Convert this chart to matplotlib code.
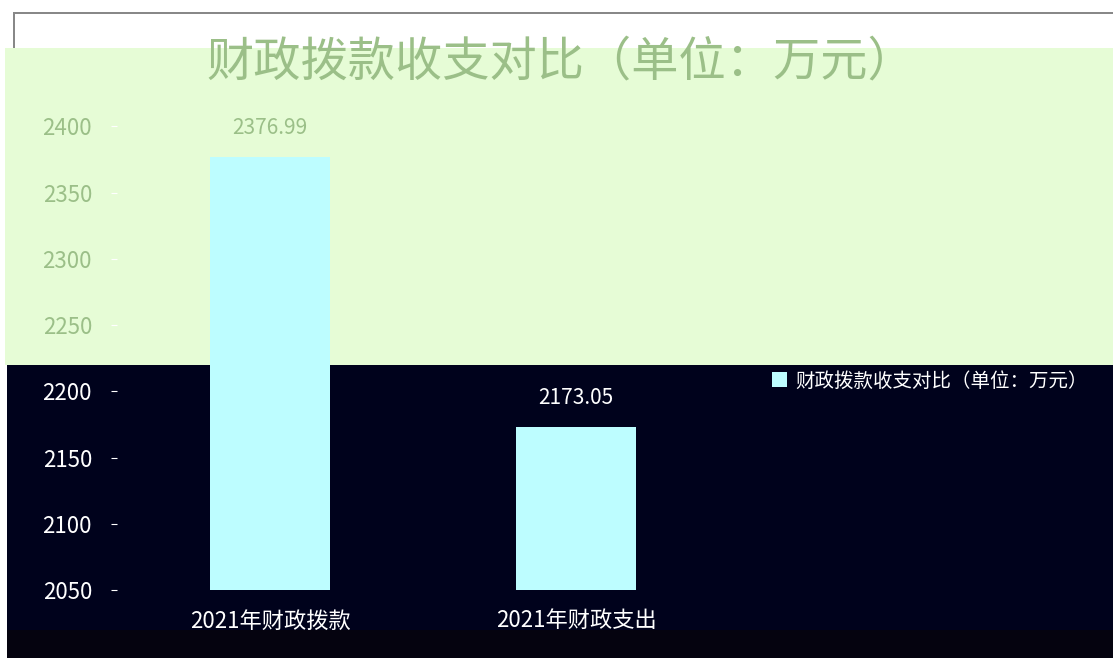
import matplotlib
matplotlib.use("Agg")
import matplotlib.pyplot as plt
from matplotlib.patches import Rectangle

plt.rcParams['font.family'] = ['Noto Sans CJK SC', 'DejaVu Sans']

categories = ["2021年财政拨款", "2021年财政支出"]
values = [2376.99, 2173.05]
yticks = [2050, 2100, 2150, 2200, 2250, 2300, 2350, 2400]
title = "财政拨款收支对比（单位：万元）"
series_name = "财政拨款收支对比（单位：万元）"

W, H = 1113, 658
fig = plt.figure(figsize=(W / 100, H / 100), dpi=100)
fig.patch.set_facecolor("white")

def frect(x0, y0, x1, y1, color):
    fig.patches.append(Rectangle((x0 / W, 1 - y1 / H), (x1 - x0) / W, (y1 - y0) / H,
                                 transform=fig.transFigure, facecolor=color,
                                 edgecolor="none", zorder=-10))

# background regions
frect(13, 12, W, 14, "#888888")
frect(13, 12, 15, 48, "#888888")
frect(5, 48, W, 365, "#e6fcd6")
frect(7, 365, W, 630, "#00021c")
frect(7, 630, W, 658, "#05030f")

green = "#9bbf88"
ax = fig.add_axes([117 / W, 1 - 590 / H, (729 - 117) / W, (590 - 100) / H])
ax.set_zorder(5)
ax.patch.set_alpha(0)
for s in ax.spines.values():
    s.set_visible(False)

bars = ax.bar(range(len(categories)), values, width=0.39, color="#bdfdff",
              label=series_name, zorder=2)
ax.set_xlim(-0.5, 1.5)
ax.set_ylim(2050, 2420)
ax.set_yticks(yticks)
ax.set_yticklabels([str(t) for t in yticks])
ax.set_xticks(range(len(categories)))
ax.set_xticklabels(categories)
ax.tick_params(axis="y", length=4, colors="white", labelsize=16, pad=14)
ax.tick_params(axis="x", length=0, colors="white", labelsize=16, pad=14)
for t, lab in zip(yticks, ax.get_yticklabels()):
    lab.set_color(green if t >= 2250 else "white")

for i, v in enumerate(values):
    ax.annotate(f"{v:.2f}", (i, v), xytext=(0, 13), textcoords="offset points",
                ha="center", va="bottom", fontsize=15,
                color=green if v > 2300 else "white")

fig.text(561 / W, 1 - 62 / H, title, ha="center", va="center", fontsize=34,
         color=green, zorder=6)

leg = ax.legend(loc="upper left", bbox_to_anchor=(758 / W, 1 - 357 / H),
                bbox_transform=fig.transFigure, frameon=False, fontsize=14,
                labelcolor="white", handlelength=0.8, handleheight=0.8,
                handletextpad=0.4, borderpad=0.2)

fig.savefig("out.png", dpi=100)
